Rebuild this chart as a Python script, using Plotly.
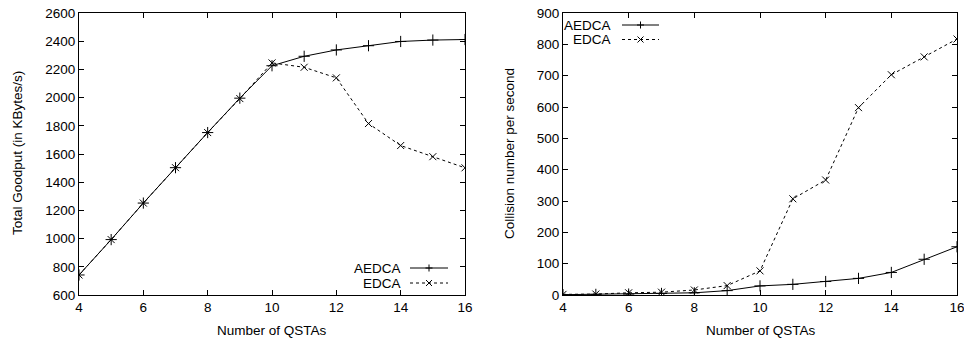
import plotly.graph_objects as go

# Number of QSTAs (x axis of both panels)
qstas = [4, 5, 6, 7, 8, 9, 10, 11, 12, 13, 14, 15, 16]

# Total goodput in KBytes/s
goodput_aedca = [742, 993, 1252, 1503, 1752, 1996, 2226, 2293, 2338, 2368, 2398, 2408, 2412]
goodput_edca = [742, 993, 1252, 1503, 1752, 1993, 2246, 2215, 2140, 1816, 1660, 1581, 1502]

# Collisions per second
coll_aedca = [1, 2, 3, 5, 7, 14, 29, 34, 43, 53, 72, 114, 154]
coll_edca = [2, 3, 7, 9, 16, 30, 77, 307, 367, 598, 703, 760, 817]

series_names = ["AEDCA", "EDCA"]

W, H = 964, 339
FONT = "Liberation Sans, Arial, Helvetica, sans-serif"
FS = 13.5


def px(x):
    return x / W


def py(y):
    return 1 - y / H


fig = go.Figure()

solid = dict(color="black", width=1)
dashed = dict(color="black", width=1, dash="3px,3px")
plus = dict(symbol="cross-thin", size=8, color="black", line=dict(color="black", width=1))
cross = dict(symbol="x-thin", size=7, color="black", line=dict(color="black", width=1))

fig.add_trace(go.Scatter(x=qstas, y=goodput_aedca, mode="lines+markers", line=solid,
                         marker=plus, name=series_names[0], xaxis="x", yaxis="y"))
fig.add_trace(go.Scatter(x=qstas, y=goodput_edca, mode="lines+markers", line=dashed,
                         marker=cross, name=series_names[1], xaxis="x", yaxis="y"))
fig.add_trace(go.Scatter(x=qstas, y=coll_aedca, mode="lines+markers", line=solid,
                         marker=plus, name=series_names[0], xaxis="x2", yaxis="y2"))
fig.add_trace(go.Scatter(x=qstas, y=coll_edca, mode="lines+markers", line=dashed,
                         marker=cross, name=series_names[1], xaxis="x2", yaxis="y2"))

axis_common = dict(
    showline=True, linecolor="black", linewidth=1, mirror="ticks",
    ticks="inside", ticklen=5, tickwidth=1, tickcolor="black",
    showgrid=False, zeroline=False, automargin=False,
    tickfont=dict(family=FONT, size=FS, color="black"),
)

left_dom = [px(79), px(465)]
right_dom = [px(563), px(957)]
y_dom = [py(295), py(13)]

fig.update_layout(
    width=W, height=H,
    margin=dict(l=0, r=0, t=0, b=0),
    paper_bgcolor="white", plot_bgcolor="white",
    showlegend=False,
    font=dict(family=FONT, size=FS, color="black"),
    xaxis=dict(domain=left_dom, range=[4, 16], tickvals=[4, 6, 8, 10, 12, 14, 16],
               anchor="y", **axis_common),
    yaxis=dict(domain=y_dom, range=[600, 2600], tickvals=list(range(600, 2601, 200)),
               anchor="x", **axis_common),
    xaxis2=dict(domain=right_dom, range=[4, 16], tickvals=[4, 6, 8, 10, 12, 14, 16],
                anchor="y2", ticklabeloverflow="allow", **axis_common),
    yaxis2=dict(domain=y_dom, range=[0, 900], tickvals=list(range(0, 901, 100)),
                anchor="x2", **axis_common),
)

annotations = []
shapes = []

# Axis titles
annotations.append(dict(text="Number of QSTAs", x=px(272), y=py(330), xref="paper", yref="paper",
                        showarrow=False, xanchor="center", yanchor="middle"))
annotations.append(dict(text="Number of QSTAs", x=px(761), y=py(330), xref="paper", yref="paper",
                        showarrow=False, xanchor="center", yanchor="middle"))
annotations.append(dict(text="Total Goodput (in KBytes/s)", x=px(17), y=py(153), xref="paper",
                        yref="paper", showarrow=False, textangle=-90,
                        xanchor="center", yanchor="middle"))
annotations.append(dict(text="Collision number per second", x=px(509), y=py(154), xref="paper",
                        yref="paper", showarrow=False, textangle=-90,
                        xanchor="center", yanchor="middle"))


def legend_entry(label, text_right, x0, x1, y, dash, symbol):
    annotations.append(dict(text=label, x=px(text_right), y=py(y), xref="paper", yref="paper",
                            showarrow=False, xanchor="right", yanchor="middle", borderpad=0))
    shapes.append(dict(type="line", xref="paper", yref="paper", x0=px(x0), x1=px(x1),
                       y0=py(y), y1=py(y),
                       line=dict(color="black", width=1, dash=dash)))
    cx = (x0 + x1) / 2
    r = 3.5
    if symbol == "plus":
        path = (f"M {px(cx - r)},{py(y)} L {px(cx + r)},{py(y)} "
                f"M {px(cx)},{py(y - r)} L {px(cx)},{py(y + r)}")
    else:
        r = 3
        path = (f"M {px(cx - r)},{py(y - r)} L {px(cx + r)},{py(y + r)} "
                f"M {px(cx - r)},{py(y + r)} L {px(cx + r)},{py(y - r)}")
    shapes.append(dict(type="path", xref="paper", yref="paper", path=path,
                       line=dict(color="black", width=1)))


legend_entry(series_names[0], 402, 410, 448, 268, "solid", "plus")
legend_entry(series_names[1], 402, 410, 448, 283, "3px,3px", "cross")
legend_entry(series_names[0], 612, 622, 659, 25, "solid", "plus")
legend_entry(series_names[1], 612, 622, 659, 39.5, "3px,3px", "cross")

fig.update_layout(annotations=annotations, shapes=shapes)

fig.write_html("out.html")
